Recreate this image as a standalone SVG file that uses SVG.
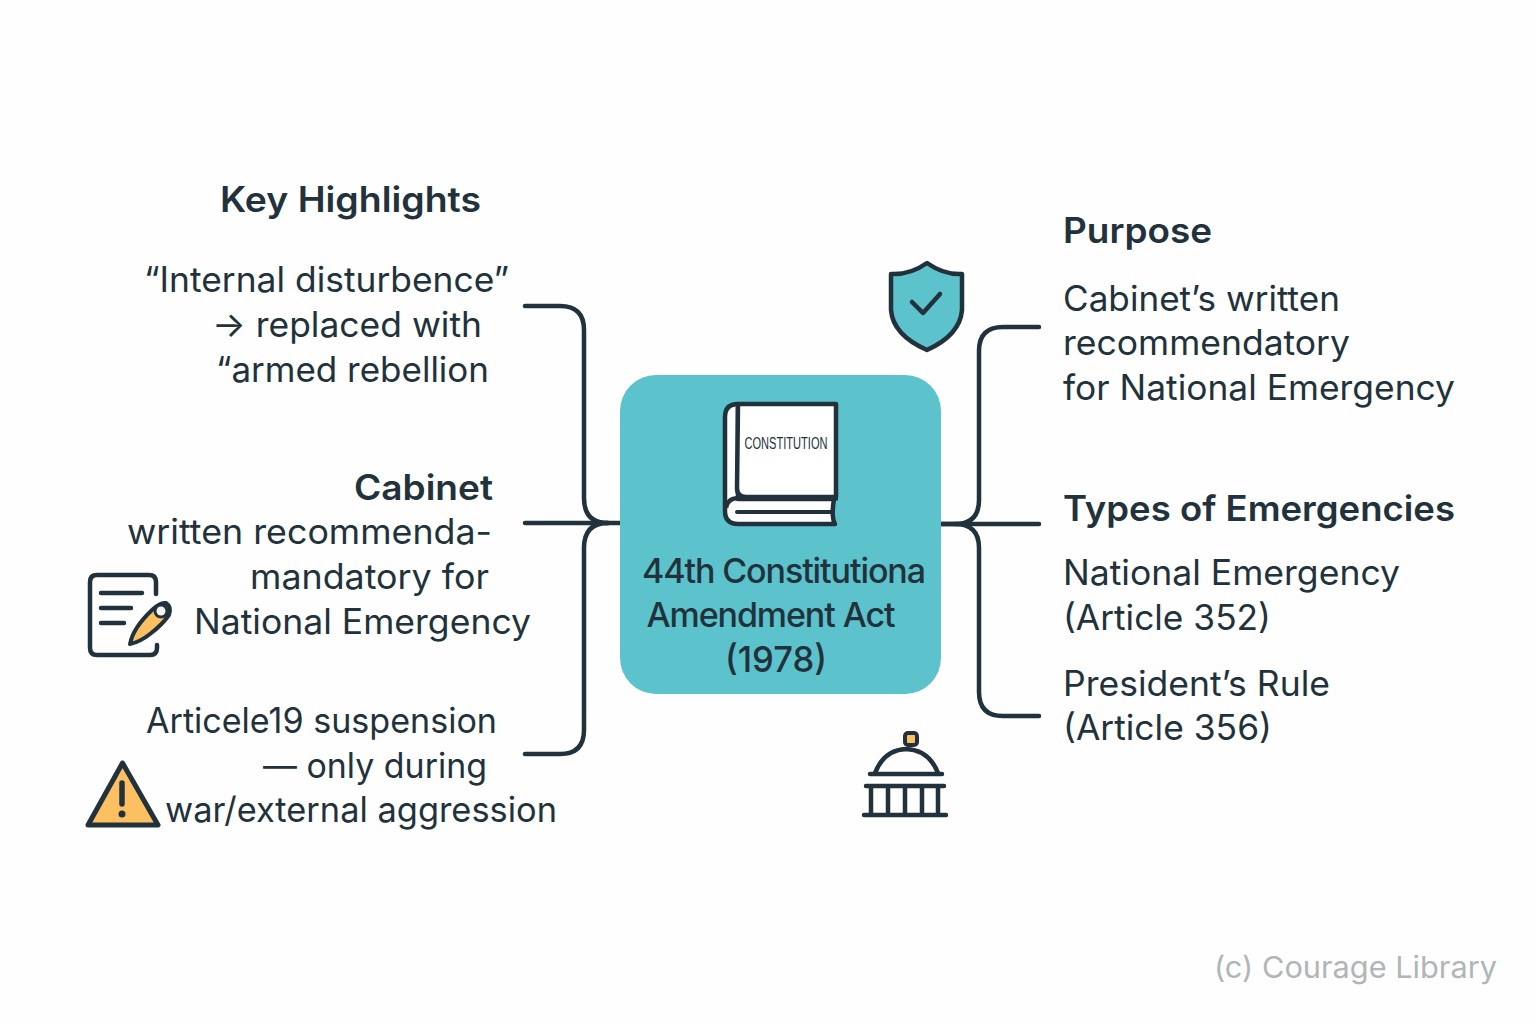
<svg xmlns="http://www.w3.org/2000/svg" width="1536" height="1024" viewBox="0 0 1536 1024">
<style>
text{font-family:"Inter","Noto Sans","Liberation Sans",sans-serif;fill:#22323c;font-size:35px}
.b{font-weight:600;font-size:35px}
.m{font-weight:500;font-size:34px}
.l{fill:none;stroke:#22323c;stroke-width:4.5;stroke-linecap:round;stroke-linejoin:round}
.i{stroke:#22323c;stroke-width:4.5;stroke-linecap:round;stroke-linejoin:round}
.e{text-anchor:end}
</style>
<rect width="1536" height="1024" fill="#fefefe"/>
<g id="connectors" class="l">
<path d="M525 306H560Q584 306 584 330V498Q584 523 608 523"/>
<path d="M525 523H620"/>
<path d="M525 754H560Q584 754 584 730V548Q584 523 608 523"/>
<path d="M1039 327H1003Q979 327 979 351V500Q979 524 955 524H941"/>
<path d="M941 524H1039"/>
<path d="M1039 716H1003Q979 716 979 692V548Q979 524 955 524"/>
</g>
<g id="node-center">
<rect x="620" y="375" width="321" height="319" rx="36" fill="#5cc2cb"/>
<path d="M738 404Q725 404 725 417V511Q725 524 738 524H835Q831 517 834 499H738Z" fill="#fff" stroke="#22323c" stroke-width="4.500" stroke-linejoin="round"/>
<path d="M738 404H836V497H746Q737 497 737 488Z" fill="#fff" stroke="#22323c" stroke-width="4.500" stroke-linejoin="round"/>
<path d="M737 498Q727 499 726 508" fill="none" stroke="#22323c" stroke-width="4.500"/>
<path d="M736 498H838" stroke="#22323c" stroke-width="5" fill="none"/>
<path d="M737 512H832" stroke="#22323c" stroke-width="4" fill="none" stroke-linecap="round"/>
<text x="786" y="449" text-anchor="middle" style="font-family:'Liberation Sans Narrow','Liberation Sans',sans-serif;font-size:16px" textLength="83" lengthAdjust="spacingAndGlyphs">CONSTITUTION</text>
<text x="784" y="583" text-anchor="middle" class="m" textLength="284">44th Constitutiona</text>
<text x="771" y="627" text-anchor="middle" class="m" textLength="249">Amendment Act</text>
<text x="776" y="672" text-anchor="middle" class="m" style="font-size:36px" textLength="102" lengthAdjust="spacingAndGlyphs">(1978)</text>
</g>
<g id="node-key-highlights">
<text x="481" y="212" class="b e" textLength="261" lengthAdjust="spacingAndGlyphs">Key Highlights</text>
<text x="509" y="292.300" class="e" textLength="365" lengthAdjust="spacingAndGlyphs">“Internal disturbence”</text>
<text x="482" y="337.300" class="e" textLength="270" lengthAdjust="spacingAndGlyphs">→ replaced with</text>
<text x="489" y="382.300" class="e" textLength="273" lengthAdjust="spacingAndGlyphs">“armed rebellion</text>
</g>
<g id="node-cabinet">
<text x="493" y="500.300" class="b e" textLength="139" lengthAdjust="spacingAndGlyphs">Cabinet</text>
<text x="492" y="544.300" class="e" textLength="365" lengthAdjust="spacingAndGlyphs">written recommenda-</text>
<text x="489" y="589.300" class="e" textLength="239" lengthAdjust="spacingAndGlyphs">mandatory for</text>
<text x="531" y="634.300" class="e" textLength="337" lengthAdjust="spacingAndGlyphs">National Emergency</text>
<g id="icon-doc">
<path d="M156 594V582Q156 575 149 575H97Q90 575 90 582V648Q90 655 97 655H150Q157 655 157 648V645" fill="none" class="i"/>
<path d="M101 593H142M101 608H131M101 623H124" fill="none" class="i"/>
<path d="M130 644Q133 628 152 610Q160 602 166 603Q172 607 169 615Q162 625 150 634Q140 642 130 644Z" fill="#fcc062" stroke="#22323c" stroke-width="4" stroke-linejoin="round"/>
<circle cx="161" cy="611" r="7.500" fill="#22323c"/>
<circle cx="161" cy="611" r="4.500" fill="#f4f4f4"/>
</g>
</g>
<g id="node-article19">
<text x="497" y="733.300" class="e" textLength="351" lengthAdjust="spacingAndGlyphs">Articele19 suspension</text>
<text x="487" y="778.300" class="e" textLength="224" lengthAdjust="spacingAndGlyphs">— only during</text>
<text x="557" y="822.300" class="e" textLength="392" lengthAdjust="spacingAndGlyphs">war/external aggression</text>
<g id="icon-warning">
<path d="M122.500 763L158 825H88Z" fill="#fcc062" stroke="#22323c" stroke-width="5" stroke-linejoin="round"/>
<path d="M122 783V804" stroke="#22323c" stroke-width="5.500" stroke-linecap="round"/>
<circle cx="122" cy="814" r="3.500" fill="#22323c"/>
</g>
</g>
<g id="node-purpose">
<text x="1063" y="243" class="b" textLength="149" lengthAdjust="spacingAndGlyphs">Purpose</text>
<text x="1063" y="310.500" textLength="277" lengthAdjust="spacingAndGlyphs">Cabinet’s written</text>
<text x="1063" y="354.500" textLength="287" lengthAdjust="spacingAndGlyphs">recommendatory</text>
<text x="1063" y="399.500" textLength="392" lengthAdjust="spacingAndGlyphs">for National Emergency</text>
<g id="icon-shield">
<path d="M927 263Q944 275 962 274V310Q960 335 927 350Q893 335 891 310V274Q910 275 927 263Z" fill="#5cc2cb" stroke="#22323c" stroke-width="4.500" stroke-linejoin="round"/>
<path d="M912 302L923 313L940 294" fill="none" stroke="#22323c" stroke-width="4.500" stroke-linecap="round" stroke-linejoin="round"/>
</g>
</g>
<g id="node-types">
<text x="1063" y="521" class="b" textLength="392" lengthAdjust="spacingAndGlyphs">Types of Emergencies</text>
<text x="1063" y="585.300" textLength="337" lengthAdjust="spacingAndGlyphs">National Emergency</text>
<text x="1063" y="630" textLength="208" lengthAdjust="spacingAndGlyphs">(Article 352)</text>
<text x="1063" y="695.500" textLength="267" lengthAdjust="spacingAndGlyphs">President’s Rule</text>
<text x="1063" y="740" textLength="209" lengthAdjust="spacingAndGlyphs">(Article 356)</text>
</g>
<g id="icon-capitol">
<rect x="905" y="733" width="12" height="12" rx="3" fill="#fcc062" stroke="#22323c" stroke-width="4"/>
<path d="M875 773Q884 750 906 749Q929 750 938 773" fill="#fefefe" class="i"/>
<path d="M870 774H942M866 786H944M864 815H946M871 787V814M888 787V814M905 787V814M922 787V814M938 787V814" fill="none" class="i"/>
</g>
<text id="credit" x="1497" y="978" text-anchor="end" style="fill:#b0b5b7;font-size:30px" textLength="283" lengthAdjust="spacingAndGlyphs">(c) Courage Library</text>
</svg>
